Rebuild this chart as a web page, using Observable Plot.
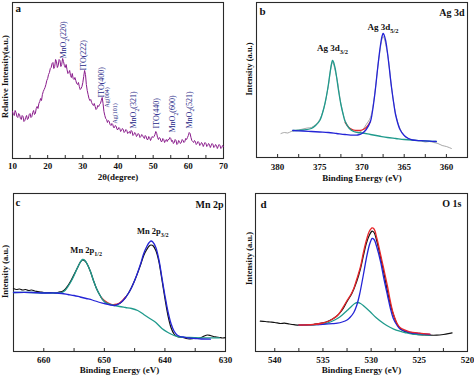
<!DOCTYPE html>
<html><head><meta charset="utf-8">
<script src="https://cdn.jsdelivr.net/npm/d3@7"></script>
<script src="https://cdn.jsdelivr.net/npm/@observablehq/plot@0.6"></script>
<style>
body{margin:0;background:#fff;}
#wrap{position:relative;width:474px;height:376px;overflow:hidden;background:#fff;}
#wrap svg{position:absolute;}
</style></head><body><div id="wrap"></div>
<script>
// ---------- Panel a : XRD ----------
const xrdTicks = [10, 15, 20, 25, 30, 35, 40, 45, 50, 55, 60, 65, 70];
const xrdTickLabels = [10, 20, 30, 40, 50, 60, 70];
const xrdAngle = d3.range(10, 70.1, 0.25);
const xrdIntensity = [
  47,44,43,48,46,42,41,45,44,40,39,43,42,37,38,41,43,39,40,44,
  45,41,42,46,48,44,45,50,52,50,55,57,60,58,64,67,69,71,74,78,
  80,84,86,90,91,95,96,90,92,99,97,91,93,99,98,92,94,100,97,93,
  91,94,89,85,86,88,83,81,85,80,79,81,78,75,74,76,72,69,70,72,
  76,82,88,84,74,68,64,60,58,59,56,54,53,55,52,49,50,53,52,54,
  55,58,61,55,47,43,40,39,36,38,37,34,33,35,34,31,31,33,32,29,
  29,31,30,27,28,30,29,26,27,29,28,25,26,27,25,28,27,23,24,26,
  25,22,23,25,24,21,22,24,23,21,20,23,22,19,19,22,21,18,20,22,
  21,22,24,27,25,21,19,21,20,17,17,20,19,16,18,19,17,19,19,21,
  20,17,18,15,16,19,18,14,15,18,17,15,16,19,18,16,17,20,19,21,
  23,26,25,21,18,17,16,18,17,14,15,17,16,13,14,16,15,12,14,16,
  15,12,13,15,14,11,13,15,14,11,12,14,13,10,12,14,13,10,11,13,12];
const xrdPeakNames = ["MnO{2}(220)","ITO(222)","ITO(400)","Ag(004)","Ag(101)","MnO{2}(321)","ITO(440)","MnO{2}(600)","MnO{2}(521)"];
const xrdPeakAngle = [24.5, 30.2, 35.3, 37.0, 39.3, 44.4, 50.9, 55.5, 60.3];
const xrdPeakBase  = [100, 88, 61, 51, 35, 30, 30, 26, 30];

// ---------- Panel b : Ag 3d ----------
const agTicks = [380, 377.5, 375, 372.5, 370, 367.5, 365, 362.5, 360];
const agTickLabels = [380, 375, 370, 365, 360];
const agRawBE = [379.6,379.2,378.8,378.4,378,377.5,377,376.5,376,375.5,375,374.5,374,373.5,373,372.5,372,371.5,371,370.5,370,369.5,369,368.5,368,367.5,367,366.5,366,365.5,365,364.5,364,363.5,363,362.5,362,361.5,361,360.5,360,359.4];
const agRawI  = [24,25,24.5,26,27,27.5,28.5,29.5,30,33,38,50,71,95,80,54,37,30,27,25,27,33,40,63,99,121,105,70,43,29,22,19,17.5,17,16.5,15.5,16,15,14,12,11,9];
const agFit32BE = [378.2,377,376,375.5,375,374.5,374.2,374,373.8,373.6,373.5,373.4,373.2,373,372.8,372.5,372.2,372,371.5,371,370.5,370,369,368,367,366,365,364,363,362,361.2];
const agFit32I  = [27,27.5,29,32,37,50,62,72,84,94,97,96,90,80,68,53,42,36,29,26,25,24.5,23,21.5,20,19,18,17.3,16.8,16.3,16];
const agFit52BE = [378.2,377,376,375,374,373,372,371,370.5,370,369.5,369,368.8,368.5,368.2,368,367.8,367.6,367.5,367.4,367.2,367,366.8,366.5,366.2,366,365.5,365,364.5,364,363,362,361.2];
const agFit52I  = [27,26.5,26,25.5,25,24,23,22.3,22.5,24,28,36,44,62,85,100,113,122,124,123,117,106,92,70,52,42,28,22,19,17.5,16.8,16.3,16];
const agSumBE = [372,371.5,371,370.5,370,369.5,369];
const agSumI  = [35,29.5,27.5,27,27.5,30,36];
const agLabels = ["Ag 3d{3/2}", "Ag 3d{5/2}"];
const agLabelBE = [373.5, 367.5];
const agLabelI = [109, 130];

// ---------- Panel c : Mn 2p ----------
const mnTicks = [660, 655, 650, 645, 640, 635, 630];
const mnTickLabels = [660, 650, 640, 630];
const mnRawBE = [665,664.5,664,663.5,663,662.5,662,661.5,661,660.5,660,659,658,657.5,657,656.5,656,655.5,655,654.5,654,653.6,653.2,652.8,652.3,651.8,651.3,650.8,650.3,649.8,649,648.3,647.5,647,646,645,644,643.5,643,642.6,642.3,642,641.5,641,640.5,640,639.5,639,638.5,638,637,636.5,636,635.5,635,634.5,634,633.5,633,632.5,632,631.5,631,630.5,630];
const mnRawI  = [63,62,62.5,61.5,62,61,61.5,60.5,60,59.5,59,59,58.5,59.5,60,62,66,71,77,83,89,91.5,90.5,87,80,71,63,57,52,49,47,46.5,48,50.5,58.5,71,87,96,102,105.5,106.5,106,101,90,72,53,36,24,17.5,15,14,13,12.5,12.8,13.5,13,14,15.5,16.5,16,15,14.5,14,13.5,13.8];
const mnFit12BE = [665,662,660,658,657,656.5,656,655.5,655,654.5,654,653.6,653.2,652.8,652.3,651.8,651.3,650.8,650.3,649.8,649,648.3,647.5,646.5,645.5,644.5,643.5,642.5,641.5,640.5,639.5,638.5,637.5,636,634,632,631];
const mnFit12I  = [59,59,58.5,58.5,59,61,65,70,76,83,89,92,91,87,80,71,63,57,52,49,47,46,45,44,43,41,37,33,29,23,19,16,14.5,14,13.7,13.7,13.7];
const mnFit32BE = [665,662,660,658,657,656,655,654,653,652,651,650,649,648.3,647.5,647,646.5,646,645.5,645,644.5,644,643.5,643,642.6,642.3,642,641.5,641,640.5,640,639.5,639,638.5,638,637.5,637,636,635,634,632.5];
const mnFit32I  = [59,59,58.5,58.5,58,57,56,54.5,53,51.5,49.5,48,46.5,46,48,50.5,54,58.5,64,71,79,88,98,105,109,110.5,109.5,104,92,74,56,40,28,20.5,16.5,15,14.5,13.5,13,12.5,12.3];
const mnSumBE = [650.5,650,649,648.3,647.5,647,646.5];
const mnSumI  = [54,51,47.5,47,48.5,51,54.5];
const mnLabels = ["Mn 2p{1/2}", "Mn 2p{3/2}"];
const mnLabelBE = [653.0, 642.0];
const mnLabelI = [101, 120];

// ---------- Panel d : O 1s ----------
const oTicks = [540, 537.5, 535, 532.5, 530, 527.5, 525, 522.5, 520];
const oTickLabels = [540, 535, 530, 525, 520];
const oRawBE = [541.5,541,540.5,540,539.4,539,538.5,538,537.5,537,536.5,536,535.5,535,534.6,534,533.5,533,532.5,532,531.5,531.1,530.8,530.5,530.2,529.9,529.7,529.4,529,528.7,528.3,528,527.7,527.3,527,526.5,526,525.3,524.5,524,523.2,522.5,522,521.6];
const oRawI  = [30.3,30,29.5,29,28,28.3,27.5,26.8,26.3,26.5,26.8,27,27.8,28.7,29.7,32.5,36,41.5,50,58,70,83,96,108,116,120.3,119,110,93,79.7,60,47,37,27,23,20,18.5,17,16.5,16.3,16.3,17,17.8,18.7];
const oFitOHBE = [537.5,536,535.5,535,534.5,534,533.5,533,532.5,532,531.7,531.4,531.1,530.7,530.1,529.5,528.7,528,527.4,526.5,525.7,524.8,523.9];
const oFitOHI  = [26.3,26.5,27,27.5,28.7,30.5,33,36.5,41,45.5,48,49,48,45,39.7,34,28,24,21.3,19,17.3,16.8,16.3];
const oFitOLBE = [537.5,536,535,534,533.5,533,532.5,532.2,531.8,531.5,531.2,530.8,530.5,530.2,530,529.9,529.7,529.4,529,528.7,528.3,528,527.7,527.3,527,526.5,526,525,523.9];
const oFitOLI  = [26.3,26.8,27.2,27.8,28.3,29.5,31.5,34,39,46,57,77,93,106,111.5,113,112,104,89,74,56,43,33,26,22.5,20.5,19,18,17];
const oSumBE = [537.5,536,535,534.5,534,533.5,533.2,532.8,532.5,532.1,531.8,531.5,531.1,530.8,530.5,530.2,529.9,529.7,529.4,529,528.7,528.3,528,527.7,527.3,527,526.5,526,525,523.9];
const oSumI  = [26.5,27,28.5,30,32.5,36,39.7,46,51,57,63,72,85,99,111,120,123.7,122.5,113,96,83,65,50,38,28,24,21.5,19.7,18.3,17.3];

// ---------- helpers ----------
const FONT = "'Liberation Serif', 'Times New Roman', serif";
const pts = (xs, ys) => xs.map((x, i) => ({x, y: ys[i]})).filter(d => d.y != null);
const C = {purple: "#8a1c8c", teal: "#1f9a8c", blue: "#2424d6", red: "#e8262b", black: "#111111", gray: "#9c9c9c", navy: "#1c1c86", frame: "#2a2a2a"};

function addSubscripts(svg) {
  const NS = "http://www.w3.org/2000/svg";
  svg.querySelectorAll("text").forEach(t => {
    if (t.children.length) return;
    const s = t.textContent;
    if (!s.includes("{")) return;
    t.textContent = "";
    let shifted = false;
    s.split(/(\{[^}]*\})/).forEach(p => {
      if (!p) return;
      const ts = document.createElementNS(NS, "tspan");
      if (p.startsWith("{")) {
        ts.textContent = p.slice(1, -1);
        ts.setAttribute("font-size", "0.72em");
        ts.setAttribute("dy", "2.5");
        shifted = true;
      } else {
        ts.textContent = p;
        if (shifted) { ts.setAttribute("dy", "-2.5"); shifted = false; }
      }
      t.appendChild(ts);
    });
  });
}

function panel(cfg) {
  const W = 237, H = 188;
  const innerH = H - cfg.mT - cfg.mB;
  const upp = (cfg.yDomain[1] - cfg.yDomain[0]) / innerH;
  const y0 = cfg.yDomain[0];
  const marks = [
    Plot.frame({stroke: C.frame, strokeWidth: 1.1}),
    Plot.ruleX(cfg.ticks, {x: d => d, y1: y0, y2: y0 + 3 * upp, stroke: C.frame, strokeWidth: 1}),
    Plot.text(cfg.tickLabels, {x: d => d, frameAnchor: "bottom", dy: cfg.tickDy, lineAnchor: "middle", textAnchor: "middle", fontSize: 9, fontWeight: "bold", fill: "#111"}),
    Plot.text([cfg.xTitle], {frameAnchor: "bottom", dy: cfg.titleDy, lineAnchor: "middle", textAnchor: "middle", fontSize: 9, fontWeight: "bold", fill: "#111"}),
    Plot.text([cfg.yTitle], {frameAnchor: "left", rotate: -90, dx: cfg.yDx, dy: cfg.yDy, lineAnchor: "middle", textAnchor: "middle", fontSize: 8.5, fontWeight: "bold", fill: "#111"}),
    Plot.text([cfg.letter], {frameAnchor: "top-left", dx: cfg.letterDx, dy: cfg.letterDy, lineAnchor: "middle", textAnchor: "start", fontSize: 11, fontWeight: "bold", fill: "#111"}),
    ...(cfg.corner ? [Plot.text([cfg.corner], {frameAnchor: "top-right", dx: cfg.cornerDx, dy: cfg.cornerDy, lineAnchor: "middle", textAnchor: "end", fontSize: 10, fontWeight: "bold", fill: "#111"})] : []),
    ...cfg.marks
  ];
  const svg = Plot.plot({
    width: W, height: H,
    marginLeft: cfg.mL, marginRight: cfg.mR, marginTop: cfg.mT, marginBottom: cfg.mB,
    x: {domain: cfg.xDomain, axis: null},
    y: {domain: cfg.yDomain, axis: null},
    style: `font-family:${FONT};font-weight:bold;background:transparent;overflow:visible;max-width:none;`,
    marks
  });
  addSubscripts(svg);
  svg.style.position = "absolute";
  svg.style.left = cfg.left + "px";
  svg.style.top = cfg.top + "px";
  document.getElementById("wrap").appendChild(svg);
}

const peakLabelData = xrdPeakNames.map((n, i) => ({n, x: xrdPeakAngle[i], y: xrdPeakBase[i]}));

panel({
  left: 0, top: 0, mL: 12, mR: 14, mT: 2, mB: 30,
  xDomain: [10, 70], yDomain: [0, 156],
  ticks: xrdTicks, tickLabels: xrdTickLabels, tickDy: 8, titleDy: 19,
  xTitle: "2θ(degree)", yTitle: "Relative Intensity(a.u.)", yDx: -7, yDy: -4,
  letter: "a", letterDx: 3, letterDy: 5.5,
  marks: [
    Plot.line(pts(xrdAngle, xrdIntensity), {x: "x", y: "y", stroke: C.purple, strokeWidth: 1}),
    Plot.text(peakLabelData.filter(d => !d.n.startsWith("Ag")), {x: "x", y: "y", text: "n", rotate: -90, textAnchor: "start", lineAnchor: "middle", fontSize: 8, fontWeight: "normal", fill: C.navy}),
    Plot.text(peakLabelData.filter(d => d.n.startsWith("Ag")), {x: "x", y: "y", text: "n", rotate: -90, textAnchor: "start", lineAnchor: "middle", fontSize: 6, fontWeight: "normal", fill: C.navy})
  ]
});

panel({
  left: 237, top: 0, mL: 19, mR: 7, mT: 2, mB: 31,
  xDomain: [382.5, 357.5], yDomain: [0, 155],
  ticks: agTicks, tickLabels: agTickLabels, tickDy: 9.5, titleDy: 21,
  xTitle: "Binding Energy (eV)", yTitle: "Intensity (a.u.)", yDx: -7, yDy: -11,
  letter: "b", letterDx: 3, letterDy: 8.5, corner: "Ag 3d", cornerDx: -3, cornerDy: 10.5,
  marks: [
    Plot.line(pts(agRawBE, agRawI), {x: "x", y: "y", stroke: C.gray, strokeWidth: 0.9, curve: "catmull-rom"}),
    Plot.line(pts(agSumBE, agSumI), {x: "x", y: "y", stroke: C.red, strokeWidth: 1.3, curve: "catmull-rom"}),
    Plot.line(pts(agFit32BE, agFit32I), {x: "x", y: "y", stroke: C.teal, strokeWidth: 1.3, curve: "catmull-rom"}),
    Plot.line(pts(agFit52BE, agFit52I), {x: "x", y: "y", stroke: C.blue, strokeWidth: 1.3, curve: "catmull-rom"}),
    Plot.text(pts(agLabelBE, agLabelI).map((d, i) => ({...d, t: agLabels[i]})), {x: "x", y: "y", text: "t", fontSize: 9, fontWeight: "bold", fill: "#111", textAnchor: "middle", lineAnchor: "middle"})
  ]
});

panel({
  left: 0, top: 188, mL: 13, mR: 12, mT: 5, mB: 25,
  xDomain: [665, 630], yDomain: [0, 158],
  ticks: mnTicks, tickLabels: mnTickLabels, tickDy: 8.5, titleDy: 18.5,
  xTitle: "Binding Energy (eV)", yTitle: "Intensity (a.u.)", yDx: -8, yDy: -1,
  letter: "c", letterDx: 2, letterDy: 9, corner: "Mn 2p", cornerDx: -2, cornerDy: 11,
  marks: [
    Plot.line(pts(mnRawBE, mnRawI), {x: "x", y: "y", stroke: C.black, strokeWidth: 1.2, curve: "catmull-rom"}),
    Plot.line(pts(mnSumBE, mnSumI), {x: "x", y: "y", stroke: C.red, strokeWidth: 1.3, curve: "catmull-rom"}),
    Plot.line(pts(mnFit12BE, mnFit12I), {x: "x", y: "y", stroke: C.teal, strokeWidth: 1.3, curve: "catmull-rom"}),
    Plot.line(pts(mnFit32BE, mnFit32I), {x: "x", y: "y", stroke: C.blue, strokeWidth: 1.3, curve: "catmull-rom"}),
    Plot.text(pts(mnLabelBE, mnLabelI).map((d, i) => ({...d, t: mnLabels[i]})), {x: "x", y: "y", text: "t", fontSize: 8.5, fontWeight: "bold", fill: "#111", textAnchor: "middle", lineAnchor: "middle"})
  ]
});

panel({
  left: 237, top: 188, mL: 18, mR: 7, mT: 5, mB: 25,
  xDomain: [542, 520], yDomain: [0, 158],
  ticks: oTicks, tickLabels: oTickLabels, tickDy: 8.5, titleDy: 19,
  xTitle: "Binding Energy (eV)", yTitle: "Intensity (a.u.)", yDx: -6, yDy: -14,
  letter: "d", letterDx: 5, letterDy: 10.5, corner: "O 1s", cornerDx: -6, cornerDy: 10.5,
  marks: [
    Plot.line(pts(oRawBE, oRawI), {x: "x", y: "y", stroke: C.black, strokeWidth: 1.2, curve: "catmull-rom"}),
    Plot.line(pts(oFitOHBE, oFitOHI), {x: "x", y: "y", stroke: C.teal, strokeWidth: 1.3, curve: "catmull-rom"}),
    Plot.line(pts(oFitOLBE, oFitOLI), {x: "x", y: "y", stroke: C.blue, strokeWidth: 1.3, curve: "catmull-rom"}),
    Plot.line(pts(oSumBE, oSumI), {x: "x", y: "y", stroke: C.red, strokeWidth: 1.3, curve: "catmull-rom"})
  ]
});
</script></body></html>
